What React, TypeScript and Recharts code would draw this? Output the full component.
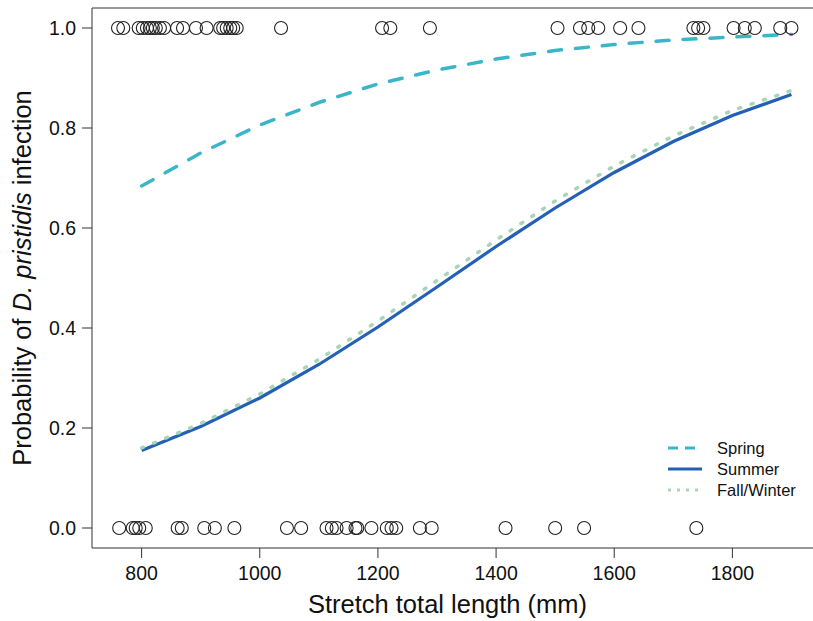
import React from "react";
import {
  ComposedChart,
  Line,
  Scatter,
  XAxis,
  YAxis,
  ReferenceArea,
} from "recharts";

// Observed fish lengths (mm) with infection present (1) / absent (0)
const infectedLengths = [
  760, 769, 795, 802, 809, 814, 819, 824, 831, 838, 860, 870, 892, 910, 933,
  938, 944, 950, 955, 961, 1036, 1207, 1221, 1288, 1504, 1542, 1556, 1573,
  1610, 1641, 1734, 1742, 1751, 1802, 1821, 1838, 1881, 1900,
];
const uninfectedLengths = [
  762, 785, 790, 796, 807, 861, 868, 906, 924, 957, 1046, 1070, 1113, 1122,
  1130, 1147, 1162, 1165, 1189, 1215, 1223, 1231, 1271, 1291, 1416, 1500,
  1549, 1739,
];

// Fitted curves
const curveLengths = [800, 900, 1000, 1100, 1200, 1300, 1400, 1500, 1600, 1700, 1800, 1900];
const springProb = [0.684, 0.75, 0.806, 0.851, 0.888, 0.916, 0.938, 0.955, 0.967, 0.976, 0.982, 0.987];
const summerProb = [0.155, 0.203, 0.26, 0.327, 0.402, 0.482, 0.563, 0.64, 0.711, 0.773, 0.825, 0.867];
const fallWinterProb = [0.16, 0.209, 0.268, 0.337, 0.414, 0.495, 0.576, 0.654, 0.724, 0.784, 0.835, 0.875];

const xTicks = [800, 1000, 1200, 1400, 1600, 1800];
const yTicks = [0, 0.2, 0.4, 0.6, 0.8, 1.0];

const seriesNames = ["Spring", "Summer", "Fall/Winter"];

const FONT = "'Liberation Sans', Arial, Helvetica, sans-serif";
const SPRING_COLOR = "#3bb6c8";
const SUMMER_COLOR = "#2360b6";
const FALL_COLOR = "#a7d6b5";

const toCurve = (ys: number[]) => curveLengths.map((x, i) => ({ x, y: ys[i] }));
const springData = toCurve(springProb);
const summerData = toCurve(summerProb);
const fallData = toCurve(fallWinterProb);
const pointData = [
  ...infectedLengths.map((x) => ({ x, y: 1 })),
  ...uninfectedLengths.map((x) => ({ x, y: 0 })),
];

const OpenCircle = (props: any) => {
  const { cx, cy } = props;
  if (cx == null || cy == null) return null;
  return <circle cx={cx} cy={cy} r={6.5} fill="none" stroke="#222" strokeWidth={1.1} />;
};

const YTitle = (props: any) => {
  const vb = props.viewBox || { x: 0, y: 0, width: 0, height: 0 };
  const cy = vb.y + vb.height / 2;
  const cx = 22;
  return (
    <text
      x={cx}
      y={cy}
      transform={`rotate(-90, ${cx}, ${cy})`}
      textAnchor="middle"
      dominantBaseline="central"
      fontFamily={FONT}
      fontSize={25.5}
      fill="#111"
    >
      <tspan>Probability of </tspan>
      <tspan fontStyle="italic">D. pristidis</tspan>
      <tspan> infection</tspan>
    </text>
  );
};

const LegendBox = () => {
  const styles = [
    { color: SPRING_COLOR, dash: "10 7", width: 3 },
    { color: SUMMER_COLOR, dash: undefined, width: 3 },
    { color: FALL_COLOR, dash: "3 6", width: 3 },
  ];
  return (
    <svg width={160} height={70} style={{ display: "block" }}>
      {seriesNames.map((name, i) => (
        <g key={name}>
          <line
            x1={8}
            x2={42}
            y1={12 + i * 21}
            y2={12 + i * 21}
            stroke={styles[i].color}
            strokeWidth={styles[i].width}
            strokeDasharray={styles[i].dash}
          />
          <text
            x={57}
            y={12 + i * 21}
            dominantBaseline="central"
            fontFamily={FONT}
            fontSize={16.5}
            fill="#111"
          >
            {name}
          </text>
        </g>
      ))}
    </svg>
  );
};

export default function App() {
  return (
    <div
      style={{
        position: "absolute",
        left: 0,
        top: 0,
        width: 813,
        height: 621,
        overflow: "hidden",
        background: "#fff",
      }}
    >
      <ComposedChart
        width={821}
        height={621}
        margin={{ top: 8, right: 0, bottom: 0, left: 0 }}
      >
        <XAxis
          type="number"
          dataKey="x"
          domain={[716, 1950]}
          ticks={xTicks}
          allowDataOverflow
          axisLine={false}
          tickLine={{ stroke: "#333", strokeWidth: 1 }}
          tickSize={10}
          tickMargin={8}
          height={73}
          tick={{ fontFamily: FONT, fontSize: 19.5, fill: "#111" }}
          label={{
            value: "Stretch total length (mm)",
            position: "insideBottom",
            offset: 8,
            fontFamily: FONT,
            fontSize: 25.5,
            fill: "#111",
            dx: -9,
          }}
        />
        <YAxis
          type="number"
          dataKey="y"
          domain={[-0.04, 1.04]}
          ticks={yTicks}
          allowDataOverflow
          axisLine={false}
          tickLine={{ stroke: "#333", strokeWidth: 1 }}
          tickSize={10}
          tickMargin={6}
          width={92}
          tickFormatter={(v: number) => v.toFixed(1)}
          tick={{ fontFamily: FONT, fontSize: 19.5, fill: "#111" }}
          label={{ content: YTitle }}
        />
        <ReferenceArea
          x1={716}
          x2={1950}
          y1={-0.04}
          y2={1.04}
          fill="none"
          stroke="#333"
          strokeWidth={1}
          ifOverflow="visible"
        />
        <Scatter
          name="points"
          data={pointData}
          shape={<OpenCircle />}
          isAnimationActive={false}
          legendType="none"
        />
        <Line
          name="Spring"
          data={springData}
          dataKey="y"
          type="linear"
          stroke={SPRING_COLOR}
          strokeWidth={3.5}
          strokeDasharray="13 14"
          strokeLinecap="round"
          dot={false}
          isAnimationActive={false}
        />
        <Line
          name="Summer"
          data={summerData}
          dataKey="y"
          type="linear"
          stroke={SUMMER_COLOR}
          strokeWidth={3.2}
          dot={false}
          isAnimationActive={false}
        />
        <Line
          name="Fall/Winter"
          data={fallData}
          dataKey="y"
          type="linear"
          stroke={FALL_COLOR}
          strokeWidth={3.5}
          strokeDasharray="2 11"
          strokeLinecap="round"
          dot={false}
          isAnimationActive={false}
        />
      </ComposedChart>
      <div style={{ position: "absolute", left: 660, top: 436 }}>
        <LegendBox />
      </div>
    </div>
  );
}
